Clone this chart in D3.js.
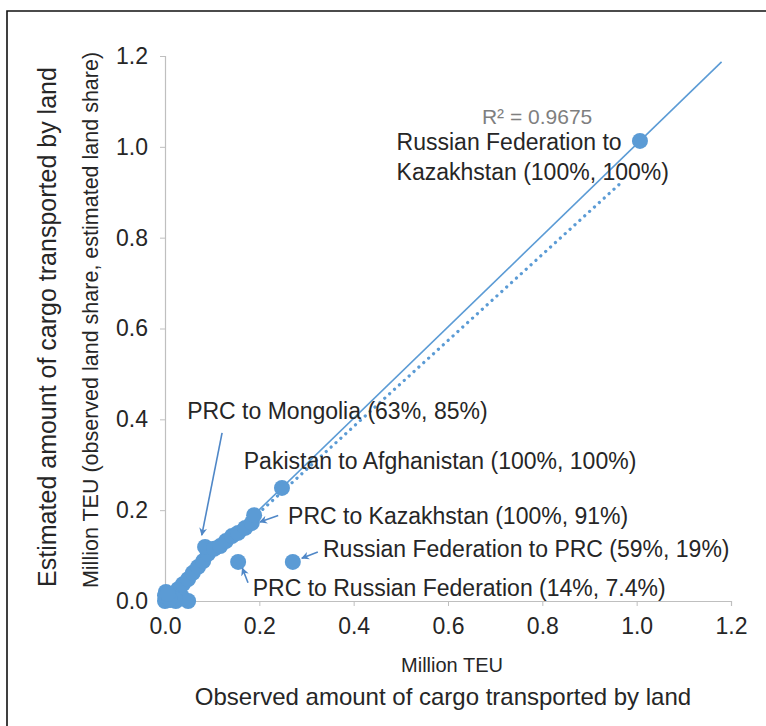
<!DOCTYPE html>
<html>
<head>
<meta charset="utf-8">
<script src="https://cdn.jsdelivr.net/npm/d3@7"></script>
<style>
  body { margin: 0; background: #fff; }
  text { font-family: "Liberation Sans", Arial, sans-serif; fill: #262626; }
</style>
</head>
<body>
<div id="chart-area"></div>
<script>
// observed (x) vs estimated (y), million TEU
var obsX = [0.000, 0.004, 0.011, 0.015, 0.023, 0.028, 0.036, 0.038, 0.049, 0.049, 0.059, 0.070,
            0.081, 0.091, 0.085, 0.104, 0.117, 0.129, 0.142, 0.155, 0.170, 0.184, 0.189, 0.248,
            0.155, 0.271, 1.007, 0.002, 0.000, 0.020, 0.010, 0.006];
var estY = [0.000, 0.009, 0.002, 0.015, 0.000, 0.026, 0.009, 0.037, 0.000, 0.048, 0.062, 0.075,
            0.088, 0.104, 0.119, 0.115, 0.121, 0.132, 0.143, 0.150, 0.161, 0.172, 0.189, 0.249,
            0.086, 0.086, 1.013, 0.020, 0.012, 0.005, 0.004, 0.016];

// linear trend (solid) and dotted line, endpoints
var trendX = [0.0, 1.18];
var trendY = [0.0, 1.187];
var dotX = [0.197, 0.969];
var dotY = [0.192, 0.923];

var ticks = [0, 0.2, 0.4, 0.6, 0.8, 1.0, 1.2];

// annotations: label lines, text anchor (data units), arrow from/to (data units)
var notes = [
    {lines: ['Russian Federation to', 'Kazakhstan (100%, 100%)'], tx: 0.491, ty: 0.993, arrow: null},
    {lines: ['PRC to Mongolia (63%, 85%)'], tx: 0.047, ty: 0.401, arrow: [0.121, 0.370, 0.078, 0.145]},
    {lines: ['Pakistan to Afghanistan (100%, 100%)'], tx: 0.167, ty: 0.291, arrow: null},
    {lines: ['PRC to Kazakhstan (100%, 91%)'], tx: 0.261, ty: 0.170, arrow: [0.240, 0.188, 0.201, 0.174]},
    {lines: ['Russian Federation to PRC (59%, 19%)'], tx: 0.335, ty: 0.097, arrow: [0.324, 0.108, 0.290, 0.094]},
    {lines: ['PRC to Russian Federation (14%, 7.4%)'], tx: 0.186, ty: 0.011, arrow: [0.176, 0.040, 0.164, 0.072]}
];
var r2Text = 'R² = 0.9675';

var def = {
    width: 766,
    height: 726,
    left: 165,
    right: 731,
    top: 56,
    bottom: 601,
    blue: '#5b9bd5',
    arrow: '#4f87c7'
};

var svg = d3.select('#chart-area').append('svg')
    .attr('width', def.width)
    .attr('height', def.height);

svg.append('defs').append('marker')
    .attr('id', 'head')
    .attr('viewBox', '0 0 10 10')
    .attr('refX', 9).attr('refY', 5)
    .attr('markerWidth', 8).attr('markerHeight', 8)
    .attr('markerUnits', 'userSpaceOnUse')
    .attr('orient', 'auto')
    .append('path')
    .attr('d', 'M0,0 L10,5 L0,10 L3,5 z')
    .attr('fill', def.arrow);

// frame
svg.append('path')
    .attr('d', 'M7,' + def.height + ' L7,11 L' + def.width + ',11')
    .attr('fill', 'none')
    .attr('stroke', '#111')
    .attr('stroke-width', 1.6);

var x = d3.scaleLinear().domain([0, 1.2]).range([def.left, def.right]);
var y = d3.scaleLinear().domain([0, 1.2]).range([def.bottom, def.top]);

var xAx = d3.axisBottom(x).tickValues(ticks).tickSize(5).tickPadding(12).tickFormat(d3.format('.1f'));
var yAx = d3.axisLeft(y).tickValues(ticks).tickSize(5).tickPadding(12).tickFormat(d3.format('.1f'));

var xg = svg.append('g').attr('transform', 'translate(0,' + def.bottom + ')').call(xAx);
var yg = svg.append('g').attr('transform', 'translate(' + def.left + ',0)').call(yAx);
[xg, yg].forEach(function(g) {
    g.select('.domain').attr('stroke', '#bfbfbf').attr('stroke-width', 1.2);
    g.selectAll('.tick line').attr('stroke', '#bfbfbf');
    g.selectAll('.tick text').attr('font-size', 23).attr('fill', '#262626')
        .attr('font-family', '"Liberation Sans", Arial, sans-serif');
});

// lines
svg.append('line')
    .attr('x1', x(trendX[0])).attr('y1', y(trendY[0]))
    .attr('x2', x(trendX[1])).attr('y2', y(trendY[1]))
    .attr('stroke', def.blue).attr('stroke-width', 1.6);

svg.append('line')
    .attr('x1', x(dotX[0])).attr('y1', y(dotY[0]))
    .attr('x2', x(dotX[1])).attr('y2', y(dotY[1]))
    .attr('stroke', def.blue).attr('stroke-width', 3.2)
    .attr('stroke-dasharray', '0.1,6.5').attr('stroke-linecap', 'round');

// points
svg.append('g').selectAll('circle')
    .data(obsX.map(function(v, i) { return {x: v, y: estY[i]}; }))
    .enter().append('circle')
    .attr('cx', function(d) { return x(d.x); })
    .attr('cy', function(d) { return y(d.y); })
    .attr('r', 8)
    .attr('fill', def.blue);

// R2
svg.append('text')
    .attr('x', x(0.672)).attr('y', y(1.05))
    .attr('font-size', 21)
    .style('fill', '#7f7f7f')
    .text(r2Text);

// annotations
notes.forEach(function(n) {
    n.lines.forEach(function(l, i) {
        svg.append('text')
            .attr('x', x(n.tx))
            .attr('y', y(n.ty) + i * 30)
            .attr('font-size', 23)
            .text(l);
    });
    if (n.arrow) {
        svg.append('line')
            .attr('x1', x(n.arrow[0])).attr('y1', y(n.arrow[1]))
            .attr('x2', x(n.arrow[2])).attr('y2', y(n.arrow[3]))
            .attr('stroke', def.arrow).attr('stroke-width', 1.6)
            .attr('marker-end', 'url(#head)');
    }
});

// axis titles
svg.append('text')
    .attr('transform', 'translate(47,' + 327 + ') rotate(-90)')
    .attr('dy', '0.35em')
    .attr('text-anchor', 'middle')
    .attr('font-size', 25)
    .text('Estimated amount of cargo transported by land');

svg.append('text')
    .attr('transform', 'translate(90,' + 320 + ') rotate(-90)')
    .attr('dy', '0.35em')
    .attr('text-anchor', 'middle')
    .attr('font-size', 21.5)
    .text('Million TEU (observed land share, estimated land share)');

svg.append('text')
    .attr('x', 452).attr('y', 665)
    .attr('dy', '0.35em')
    .attr('text-anchor', 'middle')
    .attr('font-size', 20)
    .text('Million TEU');

svg.append('text')
    .attr('x', 443).attr('y', 697)
    .attr('dy', '0.35em')
    .attr('text-anchor', 'middle')
    .attr('font-size', 24)
    .text('Observed amount of cargo transported by land');
</script>
</body>
</html>
